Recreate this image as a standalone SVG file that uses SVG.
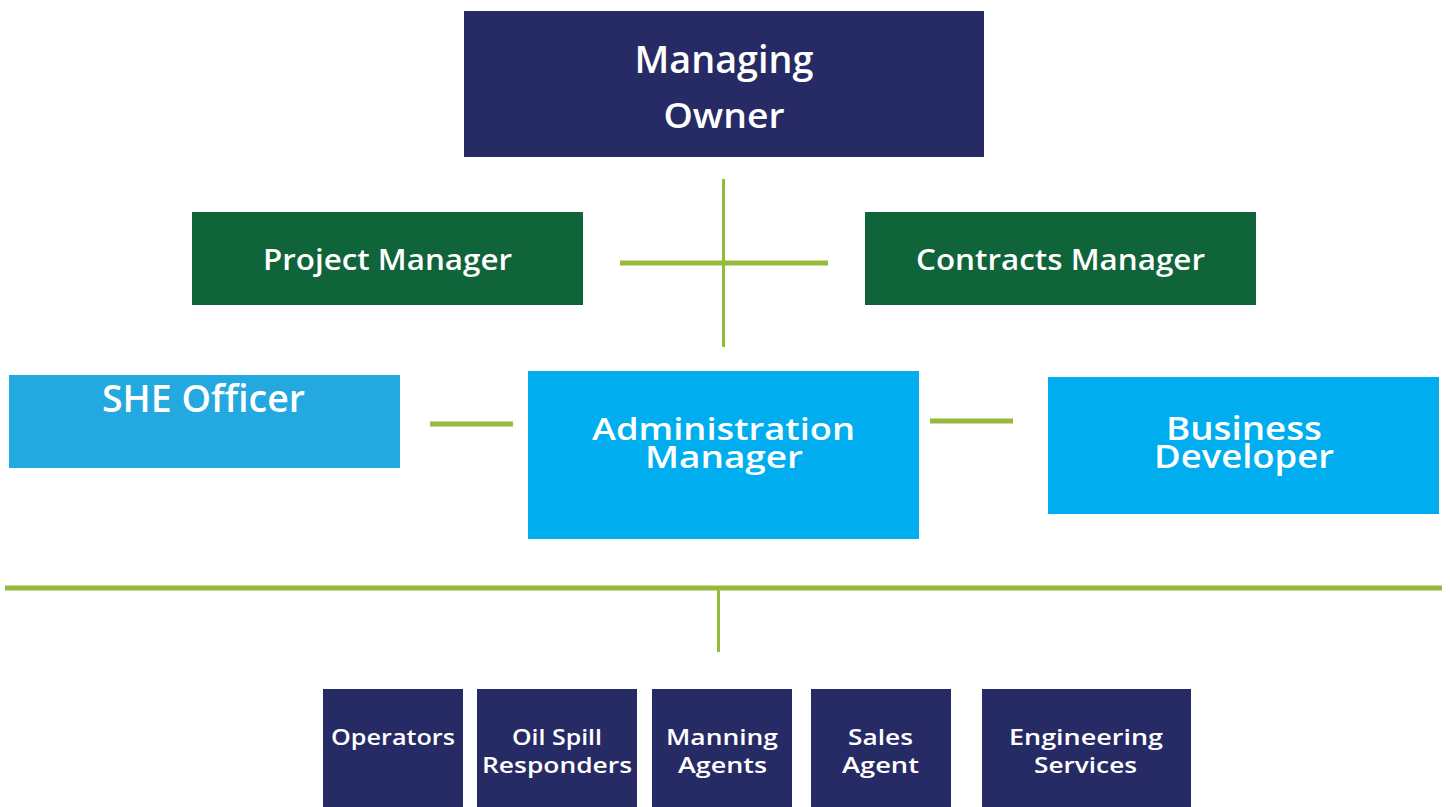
<svg xmlns="http://www.w3.org/2000/svg" width="1450" height="807" viewBox="0 0 1450 807">
<style>
.t{font-family:"Open Sans","Liberation Sans",sans-serif;font-weight:600;fill:#fff;text-anchor:middle}
.c{stroke:#95BB3C;fill:none}
.navy{fill:#272B65}
.green{fill:#10643A}
.s{font-size:21px}
</style>
<rect width="1450" height="807" fill="#fff"/>
<g id="connectors">
<line class="c" x1="723.5" y1="179" x2="723.5" y2="347" stroke-width="3"/>
<line class="c" x1="620" y1="263" x2="828" y2="263" stroke-width="5"/>
<line class="c" x1="430" y1="424" x2="513" y2="424" stroke-width="5"/>
<line class="c" x1="930" y1="421" x2="1013" y2="421" stroke-width="5"/>
<line class="c" x1="5" y1="588" x2="1442" y2="588" stroke-width="5"/>
<line class="c" x1="718.5" y1="590" x2="718.5" y2="652" stroke-width="3"/>
</g>
<g id="managing-owner">
<rect class="navy" x="464" y="11" width="520" height="146"/>
<text class="t" font-size="37" x="724" y="73" textLength="179" lengthAdjust="spacingAndGlyphs">Managing</text>
<text class="t" font-size="35" x="724" y="128" textLength="121" lengthAdjust="spacingAndGlyphs">Owner</text>
</g>
<g id="project-manager">
<rect class="green" x="192" y="212" width="391" height="93"/>
<text class="t" font-size="28" x="387.5" y="270" textLength="249" lengthAdjust="spacingAndGlyphs">Project Manager</text>
</g>
<g id="contracts-manager">
<rect class="green" x="865" y="212" width="391" height="93"/>
<text class="t" font-size="28" x="1060.5" y="270" textLength="289" lengthAdjust="spacingAndGlyphs">Contracts Manager</text>
</g>
<g id="she-officer">
<rect fill="#23A8DF" x="9" y="375" width="391" height="93"/>
<text class="t" font-size="37" x="203.5" y="412" textLength="203" lengthAdjust="spacingAndGlyphs">SHE Officer</text>
</g>
<g id="administration-manager">
<rect fill="#00AEEF" x="528" y="371" width="391" height="168"/>
<text class="t" font-size="31" x="723.5" y="440" textLength="263" lengthAdjust="spacingAndGlyphs">Administration</text>
<text class="t" font-size="31" x="724" y="468" textLength="158" lengthAdjust="spacingAndGlyphs">Manager</text>
</g>
<g id="business-developer">
<rect fill="#00AEEF" x="1048" y="377" width="391" height="137"/>
<text class="t" font-size="32" x="1244" y="440" textLength="156" lengthAdjust="spacingAndGlyphs">Business</text>
<text class="t" font-size="32" x="1244" y="468" textLength="180" lengthAdjust="spacingAndGlyphs">Developer</text>
</g>
<g id="operators">
<rect class="navy" x="323" y="689" width="140" height="118"/>
<text class="t s" x="393" y="745" textLength="124" lengthAdjust="spacingAndGlyphs">Operators</text>
</g>
<g id="oil-spill-responders">
<rect class="navy" x="477" y="689" width="160" height="118"/>
<text class="t s" x="557" y="745" textLength="90" lengthAdjust="spacingAndGlyphs">Oil Spill</text>
<text class="t s" x="557" y="773" textLength="150" lengthAdjust="spacingAndGlyphs">Responders</text>
</g>
<g id="manning-agents">
<rect class="navy" x="652" y="689" width="140" height="118"/>
<text class="t s" x="722" y="745" textLength="112" lengthAdjust="spacingAndGlyphs">Manning</text>
<text class="t s" x="722.5" y="773" textLength="89" lengthAdjust="spacingAndGlyphs">Agents</text>
</g>
<g id="sales-agent">
<rect class="navy" x="811" y="689" width="140" height="118"/>
<text class="t s" x="880.5" y="745" textLength="65" lengthAdjust="spacingAndGlyphs">Sales</text>
<text class="t s" x="880.5" y="773" textLength="77" lengthAdjust="spacingAndGlyphs">Agent</text>
</g>
<g id="engineering-services">
<rect class="navy" x="982" y="689" width="209" height="118"/>
<text class="t s" x="1086" y="745" textLength="154" lengthAdjust="spacingAndGlyphs">Engineering</text>
<text class="t s" x="1085.5" y="773" textLength="103" lengthAdjust="spacingAndGlyphs">Services</text>
</g>
</svg>
